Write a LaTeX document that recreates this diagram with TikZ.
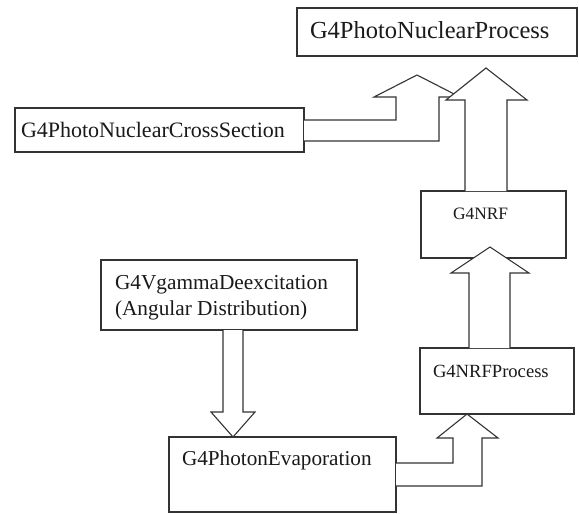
\documentclass[tikz,border=0pt]{standalone}
\usepackage{fontspec}
\setmainfont{Liberation Serif}
\usetikzlibrary{calc}
\definecolor{edge}{HTML}{333333}
\definecolor{ink}{HTML}{1A1A1A}
\tikzset{
  box/.style={draw=edge, line width=1.1pt, fill=white, rectangle, inner sep=0pt, outer sep=0pt},
  txt/.style={anchor=base west, inner sep=0pt, outer sep=0pt, text=ink},
  blockarrow/.style={draw=edge, line width=1.1pt, fill=white, line join=miter},
}
\begin{document}
\begin{tikzpicture}[x=1pt, y=-1pt]
\useasboundingbox (0,0) rectangle (579,514);
% boxes
\node[box, minimum width=280pt, minimum height=48pt] (proc) at (437,32) {};
\node[box, minimum width=289pt, minimum height=44pt] (cross) at (159.5,130) {};
\node[box, minimum width=256pt, minimum height=70pt] (vgam) at (229,295) {};
\node[box, minimum width=227pt, minimum height=75pt] (evap) at (282.5,474.5) {};
\node[box, minimum width=145pt, minimum height=67pt] (nrf) at (493.5,224.5) {};
\node[box, minimum width=154pt, minimum height=66pt] (nrfp) at (497,381) {};
% texts
\node[txt, font=\fontsize{24.5}{29}\selectfont] (procT) at (310,38) {G4PhotoNuclearProcess};
\node[txt, font=\fontsize{22}{26}\selectfont] (crossT) at (21,137) {G4PhotoNuclearCrossSection};
\node[txt, font=\fontsize{21.3}{26}\selectfont] (vgamT1) at (115,289) {G4VgammaDeexcitation};
\node[txt, font=\fontsize{21.3}{26}\selectfont] (vgamT2) at (115,315) {(Angular Distribution)};
\node[txt, font=\fontsize{21.2}{26}\selectfont] (evapT) at (182,465) {G4PhotonEvaporation};
\node[txt, font=\fontsize{17.4}{21}\selectfont] (nrfT) at (453,219) {G4NRF};
\node[txt, font=\fontsize{18.6}{22}\selectfont] (nrfpT) at (433,377) {G4NRFProcess};
% block arrows
% CrossSection -> PhotoNuclearProcess (bent)
\draw[blockarrow] (cross.east |- 0,120) -- (396,120) -- (396,97) -- (374,97) -- (417,75)
  -- (460,97) -- (439,97) -- (439,141) -- (cross.east |- 0,141);
% NRF -> PhotoNuclearProcess
\draw[blockarrow] (465,0 |- nrf.north) -- (465,100) -- (446,100) -- (486,68) -- (527,100)
  -- (507,100) -- (507,0 |- nrf.north);
% NRFProcess -> NRF
\draw[blockarrow] (469,0 |- nrfp.north) -- (469,273) -- (451,273) -- (490,247) -- (529,273)
  -- (510,273) -- (510,0 |- nrfp.north);
% Vgamma -> PhotonEvaporation
\draw[blockarrow] (223,0 |- vgam.south) -- (223,412) -- (211,412) -- (233,0 |- evap.north) -- (255,412)
  -- (243,412) -- (243,0 |- vgam.south);
% PhotonEvaporation -> NRFProcess (bent)
\draw[blockarrow] (evap.east |- 0,463) -- (453,463) -- (453,438) -- (437,438) -- (467,0 |- nrfp.south)
  -- (498,438) -- (482,438) -- (482,486) -- (evap.east |- 0,486);
\end{tikzpicture}
\end{document}
